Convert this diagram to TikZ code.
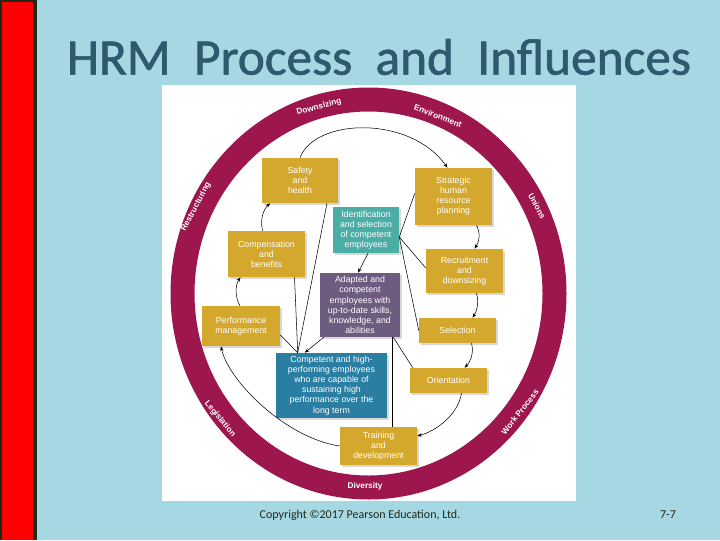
\documentclass[tikz,border=0pt]{standalone}
\usepackage{fontspec}
\newfontfamily\titlefont{Carlito}
\newfontfamily\headfont[RawFeature={embolden=1.3}]{Carlito}
\newfontfamily\boxfont{Liberation Sans}
\usetikzlibrary{arrows.meta, calc, shadows}

\definecolor{slidebg}{RGB}{166,216,228}
\definecolor{barred}{RGB}{255,0,0}
\definecolor{bardark}{RGB}{34,40,24}
\definecolor{titleblue}{RGB}{47,89,110}
\definecolor{ringred}{RGB}{158,22,78}
\definecolor{boxgold}{RGB}{212,168,44}
\definecolor{boxteal}{RGB}{75,174,166}
\definecolor{boxmauve}{RGB}{110,92,128}
\definecolor{boxblue}{RGB}{42,126,161}

\begin{document}
\begin{tikzpicture}[x=0.75pt,y=0.75pt,yscale=-1,xscale=1,
  hrmbox/.style={fill=boxgold, text=white, align=center, inner sep=1pt,
    drop shadow={shadow xshift=1.2pt, shadow yshift=-1.2pt, opacity=0.3},
    font=\boxfont\fontsize{6.6}{7.6}\selectfont},
  ringtext/.style={text=white, inner sep=0pt, font=\boxfont\bfseries\fontsize{6.2}{7}\selectfont},
  conn/.style={draw=black, line width=0.4pt},
  arr/.style={conn, -{Stealth[length=3.5pt,width=2.6pt]}}]
\useasboundingbox (0,0) rectangle (720,540);

% slide background
\fill[slidebg] (0,0) rectangle (720,540);
\fill[bardark] (0,0) rectangle (37,540);
\fill[barred] (1.5,1.5) rectangle (32.5,540);

% Text Node
\node[text=titleblue] (title) at (379,57) {\headfont\fontsize{38.5}{40}\selectfont\spaceskip=17.5pt HRM Process and Influences};

% white panel
\fill[white] (162,85) rectangle (576,501);

% influence ring
\fill[ringred, even odd rule] (368.5,293.5) ellipse [x radius=198, y radius=206]
  (368.5,293.5) ellipse [x radius=174, y radius=182];

% ring labels
\node[ringtext, rotate=15] (downsizing) at (319,107) {Downsizing};
\node[ringtext, rotate=-21] (environment) at (438,116) {Environment};
\node[ringtext, rotate=62] (restructuring) at (196,207) {Restructuring};
\node[ringtext, rotate=-62] (unions) at (537,206) {Unions};
\node[ringtext, rotate=-50] (legislation) at (220,419) {Legislation};
\node[ringtext, rotate=52] (workprocess) at (520,412) {Work Process};
\node[ringtext] (diversity) at (365,486) {Diversity};

% process boxes
\node[hrmbox, minimum width=57pt, minimum height=33.75pt] (safety) at (300,180.5) {Safety\\and\\health};
\node[hrmbox, minimum width=57.75pt, minimum height=34.5pt] (comp) at (266.5,254) {Compensation\\and\\benefits};
\node[hrmbox, minimum width=58.5pt, minimum height=30pt] (perf) at (241,326) {Performance\\management};
\node[hrmbox, fill=boxteal, minimum width=49.5pt, minimum height=34.5pt] (ident) at (366,230) {Identification\\and selection\\of competent\\employees};
\node[hrmbox, fill=boxmauve, minimum width=60pt, minimum height=48pt] (adapt) at (360,305) {Adapted and\\competent\\employees with\\up-to-date skills,\\knowledge, and\\abilities};
\node[hrmbox, fill=boxblue, minimum width=83.25pt, minimum height=48.75pt] (compet) at (331.5,385.5) {Competent and high-\\performing employees\\who are capable of\\sustaining high\\performance over the\\long term};
\node[hrmbox, minimum width=57.75pt, minimum height=42.75pt] (strat) at (453.5,196.5) {Strategic\\human\\resource\\planning};
\node[hrmbox, minimum width=57.75pt, minimum height=33pt] (recruit) at (464.5,271) {Recruitment\\and\\downsizing};
\node[hrmbox, minimum width=57.75pt, minimum height=18.75pt] (select) at (457.5,330.5) {Selection};
\node[hrmbox, minimum width=57.75pt, minimum height=18.75pt] (orient) at (448.5,380.5) {Orientation};
\node[hrmbox, minimum width=57.75pt, minimum height=28.5pt] (train) at (378.5,446) {Training\\and\\development};

% cycle arrows
\draw[arr] (safety.north) .. controls (315,118) and (410,115) .. ($(strat.north)+(-6,0)$);
\draw[arr] ($(strat.south)+(23,0)$) .. controls (481,234) and (479,242) .. ($(recruit.north)+(10,0)$);
\draw[arr] ($(recruit.south)+(12,0)$) .. controls (479,302) and (477,311) .. ($(select.north)+(15,0)$);
\draw[arr] ($(select.south)+(14,0)$) .. controls (474,352) and (471,361) .. ($(orient.north)+(16,0)$);
\draw[arr] ($(orient.south)+(13,0)$) .. controls (458,415) and (436,431) .. ($(train.east)+(0,-10)$);
\draw[arr] (train.west) .. controls (285,438) and (228,380) .. ($(perf.south)+(-20,0)$);
\draw[arr] ($(perf.north)+(-1,0)$) .. controls (235,298) and (235,285) .. ($(comp.south)+(-26,0)$);
\draw[arr] ($(comp.north)+(-4,0)$) .. controls (260,220) and (263,210) .. ($(safety.south)+(-30,0)$);

% lines into the outcome box
\coordinate (meet) at ($(compet.north west)+(22,0)$);
\draw[conn] ($(perf.east)+(0,9)$) -- (meet);
\draw[conn] ($(comp.south)+(28,0)$) -- (meet);
\draw[conn] ($(safety.south)+(27,0)$) -- (meet);
\draw[arr] ($(adapt.south west)+(4,0)$) -- ($(compet.north west)+(29,0)$);

% identification links
\coordinate (identpt) at ($(ident.east)+(0,7)$);
\draw[conn] (identpt) -- ($(strat.west)+(0,-3)$);
\draw[conn] (identpt) -- ($(recruit.west)+(0,-3)$);
\draw[conn] (identpt) -- (select.west);
\draw[arr] ($(ident.south)+(2,0)$) -- ($(adapt.north)+(-2,0)$);

% adapted links
\draw[conn] ($(adapt.south east)+(-7,0)$) -- ($(orient.north west)+(3,0)$);
\draw[conn] ($(adapt.south)+(32,0)$) -- ($(train.north)+(13.5,0)$);

% Text Node
\node[text=bardark] (copyright) at (360,515) {\titlefont\fontsize{9}{10}\selectfont Copyright ©2017 Pearson Education, Ltd.};
% Text Node
\node[text=bardark] (pagenum) at (668,515) {\titlefont\fontsize{9}{10}\selectfont 7-7};

\end{tikzpicture}
\end{document}
